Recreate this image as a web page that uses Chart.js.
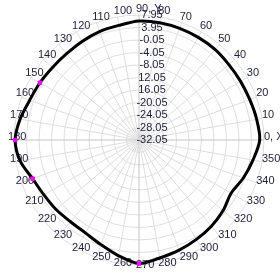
<!DOCTYPE html>
<html>
<head>
<meta charset="utf-8">
<script src="https://cdn.jsdelivr.net/npm/chart.js@4/dist/chart.umd.min.js"></script>
<style>
  html, body { margin: 0; padding: 0; background: #fff; }
  canvas { display: block; }
</style>
</head>
<body>
<canvas id="chartPolar" width="280" height="280"></canvas>
<script>
// angles in degrees, counter-clockwise from the X axis
const angles = [0, 10, 20, 30, 40, 50, 60, 70, 80, 90, 100, 110, 120, 130, 140, 150, 160, 170,
                180, 190, 200, 210, 220, 230, 240, 250, 260, 270, 280, 290, 300, 310, 320, 330, 340, 350];
const angleLabels = ['0, X', '10', '20', '30', '40', '50', '60', '70', '80', '90, Y', '100', '110', '120', '130', '140', '150', '160', '170',
                     '180', '190', '200', '210', '220', '230', '240', '250', '260', '270', '280', '290', '300', '310', '320', '330', '340', '350'];
const gain = [6.6, 6.2, 5.7, 5.5, 5.5, 5.8, 5.9, 6.0, 6.1, 6.05, 5.2, 4.9, 4.4, 4.0, 4.1, 4.6, 5.2, 6.6,
              7.6, 6.6, 4.2, 3.1, 2.6, 2.1, 2.3, 3.6, 5.6, 7.5, 6.3, 5.5, 4.7, 4.0, 3.1, 2.0, 3.5, 5.0];
const markerAngles = [150, 180, 200, 270];
const tickValues = [-32.05, -28.05, -24.05, -20.05, -16.05, -12.05, -8.05, -4.05, -0.05, 3.95, 7.95];
const tickLabels = ['-32.05', '-28.05', '-24.05', '-20.05', '16.05', '12.05', '-8.05', '-4.05', '-0.05', '3.95', '7.95'];

// radar goes clockwise from the top, so start at 90 and walk down
const order = angles.map((a, i) => (450 - i * 10) % 360);
const idx = order.map(a => angles.indexOf(a));
const labels = idx.map(i => angleLabels[i]);
const lineData = idx.map(i => gain[i]);
const markerData = idx.map(i => markerAngles.includes(angles[i]) ? gain[i] : null);

const fontFamily = '"Liberation Sans", Arial, sans-serif';
const textColor = '#1d1d3a';

// value labels sit right of the vertical axis (centre one too),
// angle labels are left-aligned just outside the outer ring
const labelPlugin = {
    id: 'polarLabels',
    beforeDatasetsDraw(chart) {
        const r = chart.scales.r;
        const ctx = chart.ctx;
        ctx.save();
        ctx.font = '11px ' + fontFamily;
        ctx.fillStyle = textColor;
        ctx.textBaseline = 'middle';
        ctx.textAlign = 'center';
        tickValues.forEach((v, i) => {
            const y = r.yCenter - r.getDistanceFromCenterForValue(v);
            ctx.fillText(tickLabels[i], r.xCenter + 13, y);
        });
        ctx.textAlign = 'left';
        labels.forEach((lab, i) => {
            const p = r.getPointPosition(i, r.drawingArea + 3);
            ctx.fillText(lab, p.x - 3, p.y - 3);
        });
        ctx.restore();
    }
};

new Chart(document.getElementById('chartPolar'), {
    type: 'radar',
    data: {
        labels: labels,
        datasets: [{
            data: markerData,
            showLine: false,
            pointStyle: 'rect',
            pointRadius: 2.5,
            pointBackgroundColor: '#ff00ff',
            pointBorderColor: '#ff00ff',
            pointBorderWidth: 1,
        }, {
            data: lineData,
            borderColor: '#000',
            borderWidth: 3,
            backgroundColor: 'transparent',
            fill: false,
            tension: 0.3,
            pointRadius: 0,
        }],
    },
    options: {
        responsive: false,
        animation: false,
        plugins: {
            legend: { display: false },
            tooltip: { enabled: false },
        },
        scales: {
            r: {
                min: -32.05,
                max: 7.95,
                // let the angle labels spill a little past the canvas edge
                afterSetDimensions: (scale) => {
                    const k = 1.5;
                    scale.left -= k;
                    scale.right += k;
                    scale.top -= k;
                    scale.bottom += k;
                    scale.drawingArea += k;
                },
                afterBuildTicks: (scale) => {
                    scale.ticks = tickValues.map(v => ({ value: v }));
                },
                ticks: { display: false },
                grid: { color: '#dedede', lineWidth: 1, circular: true },
                angleLines: {
                    color: (ctx) => (ctx.index % 9 === 0 ? '#c4c4c4' : '#dedede'),
                    lineWidth: 1,
                },
                // kept for sizing the plot; the visible labels come from the plugin
                pointLabels: {
                    font: { family: fontFamily, size: 11 },
                    color: 'transparent',
                    padding: -3,
                },
            },
        },
    },
    plugins: [labelPlugin],
});
</script>
</body>
</html>
